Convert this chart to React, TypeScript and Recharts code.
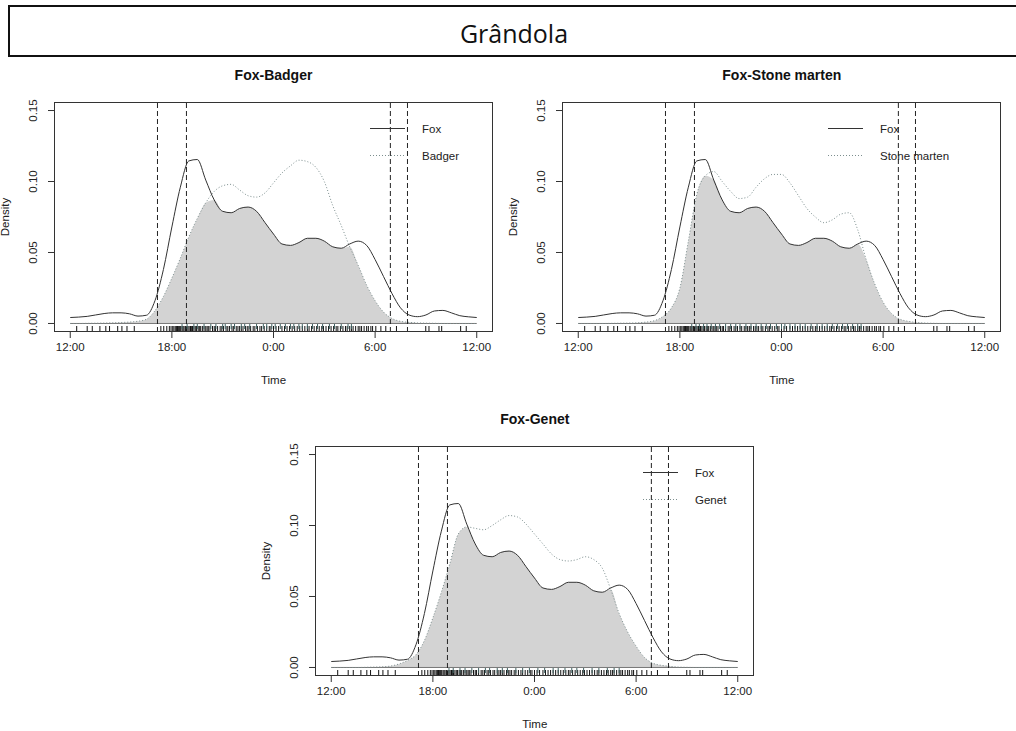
import React from "react";
import {
  ComposedChart,
  Area,
  Line,
  Scatter,
  XAxis,
  YAxis,
  ReferenceLine,
} from "recharts";

// hours after 12:00 (0 = 12:00, 12 = midnight, 24 = 12:00 next day)
const hours = [
  0, 0.5, 1, 1.5, 2, 2.5, 3, 3.5, 4, 4.5, 5, 5.5, 6, 6.5, 7, 7.5, 8, 8.5, 9,
  9.5, 10, 10.5, 11, 11.5, 12, 12.5, 13, 13.5, 14, 14.5, 15, 15.5, 16, 16.5,
  17, 17.5, 18, 18.5, 19, 19.5, 20, 20.5, 21, 21.5, 22, 22.5, 23, 23.5, 24,
];

const timeTicks = [0, 6, 12, 18, 24];
const timeLabels = ["12:00", "18:00", "0:00", "6:00", "12:00"];
const densityTicks = [0, 0.05, 0.1, 0.15];
// sunset / sunrise limits (17:09, 18:52, 6:54, 7:55)
const twilight = [5.15, 6.86, 18.9, 19.91];

const foxDensity = [
  0.0042, 0.0045, 0.005, 0.006, 0.007, 0.0075, 0.0075, 0.0068, 0.0052, 0.0058,
  0.016, 0.038, 0.068, 0.096, 0.1145, 0.1155, 0.101, 0.087, 0.079, 0.078,
  0.081, 0.082, 0.079, 0.071, 0.063, 0.056, 0.055, 0.057, 0.06, 0.06, 0.058,
  0.054, 0.053, 0.056, 0.058, 0.055, 0.045, 0.033, 0.021, 0.011, 0.006, 0.0048,
  0.006, 0.0088, 0.0092, 0.0075, 0.0055, 0.0047, 0.0042,
];

const badgerDensity = [
  0, 0, 0.0001, 0.0002, 0.0003, 0.0005, 0.0007, 0.001, 0.0016, 0.003, 0.009,
  0.019, 0.032, 0.046, 0.061, 0.074, 0.085, 0.093, 0.097, 0.098, 0.094, 0.09,
  0.089, 0.092, 0.099, 0.106, 0.111, 0.115, 0.114, 0.11, 0.1, 0.083, 0.069,
  0.054, 0.041, 0.027, 0.016, 0.008, 0.0035, 0.0015, 0.0008, 0.0004, 0.0002,
  0.0001, 0, 0, 0, 0, 0,
];

const martenDensity = [
  0, 0, 0, 0, 0.0001, 0.0002, 0.0003, 0.0005, 0.001, 0.002, 0.005, 0.011,
  0.025, 0.058, 0.091, 0.104, 0.107, 0.1, 0.093, 0.088, 0.089, 0.096, 0.102,
  0.105, 0.105, 0.099, 0.09, 0.081, 0.075, 0.071, 0.073, 0.077, 0.078, 0.066,
  0.045, 0.028, 0.015, 0.007, 0.003, 0.0015, 0.0007, 0.0003, 0.0001, 0, 0, 0,
  0, 0, 0,
];

const genetDensity = [
  0, 0, 0, 0, 0.0001, 0.0003, 0.0005, 0.001, 0.0025, 0.005, 0.009, 0.019,
  0.035, 0.053, 0.073, 0.094, 0.099, 0.098, 0.097, 0.1, 0.104, 0.107, 0.106,
  0.101, 0.094, 0.087, 0.08, 0.076, 0.075, 0.076, 0.078, 0.076, 0.07, 0.055,
  0.038, 0.025, 0.015, 0.007, 0.003, 0.0015, 0.0008, 0.0003, 0.0001, 0, 0, 0,
  0, 0, 0,
];

// detection times (hours after 12:00) shown as rugs
const foxRug = [
  0.38, 1.0, 1.3, 1.75, 2.1, 2.32, 2.8, 3.05, 3.35, 3.78, 5.35, 5.52, 5.7,
  5.85, 5.95, 6.05, 6.12, 6.2, 6.28, 6.33, 6.4, 6.46, 6.52, 6.6, 6.66, 6.72,
  6.8, 6.88, 6.95, 7.02, 7.1, 7.15, 7.22, 7.3, 7.38, 7.45, 7.55, 7.62, 7.7,
  7.8, 7.9, 8.0, 8.08, 8.15, 8.25, 8.4, 8.5, 8.58, 8.7, 8.85, 8.95, 9.05, 9.2,
  9.3, 9.4, 9.55, 9.65, 9.8, 9.9, 10.0, 10.1, 10.2, 10.35, 10.45, 10.55,
  10.65, 10.8, 10.9, 11.05, 11.2, 11.3, 11.45, 11.6, 11.75, 11.85, 12.0,
  12.15, 12.3, 12.5, 12.65, 12.8, 12.95, 13.1, 13.25, 13.4, 13.55, 13.7,
  13.85, 14.0, 14.1, 14.25, 14.4, 14.55, 14.7, 14.85, 14.95, 15.1, 15.25,
  15.4, 15.55, 15.7, 15.8, 15.95, 16.1, 16.25, 16.35, 16.5, 16.6, 16.7, 16.85,
  17.0, 17.1, 17.2, 17.35, 17.5, 17.6, 17.75, 17.85, 18.04, 18.34, 18.63,
  19.26, 20.99, 21.18, 21.77, 21.93, 23.05, 23.38,
];
const badgerRug = [
  6.6, 6.9, 7.3, 7.5, 7.9, 8.3, 8.6, 9.0, 9.15, 9.5, 9.7, 10.1, 10.3, 10.6,
  11.0, 11.4, 11.6, 11.9, 12.1, 12.4, 12.7, 13.0, 13.2, 13.5, 13.7, 14.0,
  14.3, 14.6, 14.9, 15.3, 15.6, 16.0, 16.4, 16.6,
];
const martenRug = [
  6.7, 6.95, 7.15, 7.4, 7.6, 7.85, 8.1, 8.35, 8.7, 9.0, 9.3, 9.55, 9.9, 10.2,
  10.5, 10.8, 11.1, 11.35, 11.7, 12.0, 12.2, 12.5, 12.8, 13.1, 13.4, 13.75,
  14.1, 14.4, 14.7, 15.0, 15.3, 15.6, 15.9, 16.2, 16.5, 16.7,
];
const genetRug = [
  6.95, 7.2, 7.6, 7.9, 8.3, 8.7, 9.1, 9.35, 9.8, 10.1, 10.4, 10.9, 11.3, 11.7,
  12.2, 12.6, 13.1, 13.4, 13.8, 14.2, 14.5, 14.9, 15.4, 15.8, 16.3, 16.7, 17.0,
];

const BOX_W = 439;
const BOX_H = 230;
const FONT = "'Liberation Sans', Arial, sans-serif";
const OTHER_COLOR = "#7c8e8e";
const RUG_COLOR = "#3f6363";

const YTick = ({ x, y, payload }: any) => {
  const cx = x - 13;
  return (
    <text
      x={cx}
      y={y}
      transform={`rotate(-90 ${cx} ${y})`}
      textAnchor="middle"
      dominantBaseline="central"
      fontSize={11.5}
      fill="#222"
      fontFamily={FONT}
    >
      {payload.value.toFixed(2)}
    </text>
  );
};

const rugShape = (color: string, from: number, to: number) => (props: any) =>
  (
    <line
      x1={props.cx}
      x2={props.cx}
      y1={props.cy - from}
      y2={props.cy - to}
      stroke={color}
      strokeWidth={1}
    />
  );

type PanelProps = {
  boxLeft: number;
  boxTop: number;
  title: string;
  otherName: string;
  other: number[];
  otherRug: number[];
  legendX: number;
};

const Panel = ({
  boxLeft,
  boxTop,
  title,
  otherName,
  other,
  otherRug,
  legendX,
}: PanelProps) => {
  const data = hours.map((h, i) => ({
    h,
    fox: foxDensity[i],
    other: other[i],
    overlap: Math.min(foxDensity[i], other[i]),
  }));
  const foxRugData = foxRug.map((h) => ({ h, y: -0.006 }));
  const otherRugData = otherRug.map((h) => ({ h, y: -0.006 }));

  return (
    <>
      <div
        style={{
          position: "absolute",
          left: boxLeft - 54,
          top: boxTop - 42,
          width: 503,
          height: 332,
        }}
      >
        <ComposedChart
          width={503}
          height={332}
          data={data}
          margin={{ top: 42, right: 10, bottom: 30, left: 24 }}
        >
          <XAxis
            dataKey="h"
            type="number"
            domain={[-0.96, 24.96]}
            allowDataOverflow
            ticks={timeTicks}
            interval={0}
            tickFormatter={(v) => timeLabels[timeTicks.indexOf(v)]}
            tickSize={6}
            tickMargin={5}
            axisLine={false}
            tickLine={{ stroke: "#333" }}
            tick={{ fontSize: 11.5, fill: "#222", fontFamily: FONT }}
            height={30}
          />
          <YAxis
            type="number"
            domain={[-0.006, 0.156]}
            allowDataOverflow
            ticks={densityTicks}
            interval={0}
            width={30}
            tickSize={6}
            axisLine={false}
            tickLine={{ stroke: "#333" }}
            tick={<YTick />}
          />
          <Area
            type="monotone"
            dataKey="overlap"
            fill="#d3d3d3"
            fillOpacity={1}
            stroke="none"
            isAnimationActive={false}
          />
          <ReferenceLine
            segment={[
              { x: 0, y: 0 },
              { x: 24, y: 0 },
            ]}
            stroke="#777"
          />
          <Line
            type="monotone"
            dataKey="other"
            stroke={OTHER_COLOR}
            strokeDasharray="1 2"
            strokeWidth={1}
            dot={false}
            isAnimationActive={false}
          />
          <Line
            type="monotone"
            dataKey="fox"
            stroke="#333"
            strokeWidth={1}
            dot={false}
            isAnimationActive={false}
          />
          {twilight.map((t) => (
            <ReferenceLine
              key={t}
              x={t}
              stroke="#222"
              strokeDasharray="5 3"
            />
          ))}
          <Scatter
            data={foxRugData}
            dataKey="y"
            shape={rugShape("#111", 0, 6)}
            isAnimationActive={false}
          />
          <Scatter
            data={otherRugData}
            dataKey="y"
            shape={rugShape(RUG_COLOR, 3, 8)}
            isAnimationActive={false}
          />
        </ComposedChart>
      </div>
      <div
        style={{
          position: "absolute",
          left: boxLeft,
          top: boxTop,
          width: BOX_W,
          height: BOX_H,
          border: "1px solid #333",
          boxSizing: "border-box",
          pointerEvents: "none",
        }}
      />
      <svg
        style={{ position: "absolute", left: boxLeft + legendX, top: boxTop + 15 }}
        width={160}
        height={50}
      >
        <line x1={0} x2={35} y1={11.5} y2={11.5} stroke="#333" />
        <line
          x1={0}
          x2={35}
          y1={38.5}
          y2={38.5}
          stroke={OTHER_COLOR}
          strokeDasharray="1 2"
        />
        <text x={52} y={11.5} dominantBaseline="central" fontSize={11.5} fill="#222" fontFamily={FONT}>
          Fox
        </text>
        <text x={52} y={38.5} dominantBaseline="central" fontSize={11.5} fill="#222" fontFamily={FONT}>
          {otherName}
        </text>
      </svg>
      <div
        style={{
          position: "absolute",
          left: boxLeft,
          top: boxTop - 35,
          width: BOX_W,
          lineHeight: "16px",
          textAlign: "center",
          fontWeight: "bold",
          fontSize: 14,
          color: "#111",
        }}
      >
        {title}
      </div>
      <div
        style={{
          position: "absolute",
          left: boxLeft,
          top: boxTop + BOX_H + 40,
          width: BOX_W,
          lineHeight: "16px",
          textAlign: "center",
          fontSize: 11.5,
          color: "#222",
        }}
      >
        Time
      </div>
      <div
        style={{
          position: "absolute",
          left: boxLeft - 49 - 50,
          top: boxTop + BOX_H / 2 - 8,
          width: 100,
          lineHeight: "16px",
          textAlign: "center",
          fontSize: 11.5,
          color: "#222",
          transform: "rotate(-90deg)",
        }}
      >
        Density
      </div>
    </>
  );
};

const App = () => {
  return (
    <div
      style={{
        position: "absolute",
        left: 0,
        top: 0,
        width: 1016,
        height: 731,
        background: "#fff",
        fontFamily: FONT,
        overflow: "hidden",
      }}
    >
      <div
        style={{
          position: "absolute",
          left: 8,
          top: 5,
          width: 1012,
          height: 52,
          border: "2px solid #111",
          boxSizing: "border-box",
          textAlign: "center",
          fontFamily: "'Open Sans', sans-serif",
          fontSize: 25,
          lineHeight: "52px",
          color: "#111",
        }}
      >
        Grândola
      </div>
      <Panel
        boxLeft={54}
        boxTop={101.7}
        title="Fox-Badger"
        otherName="Badger"
        other={badgerDensity}
        otherRug={badgerRug}
        legendX={316}
      />
      <Panel
        boxLeft={562.3}
        boxTop={101.7}
        title="Fox-Stone marten"
        otherName="Stone marten"
        other={martenDensity}
        otherRug={martenRug}
        legendX={266}
      />
      <Panel
        boxLeft={315.3}
        boxTop={445.7}
        title="Fox-Genet"
        otherName="Genet"
        other={genetDensity}
        otherRug={genetRug}
        legendX={328}
      />
    </div>
  );
};

export default App;
